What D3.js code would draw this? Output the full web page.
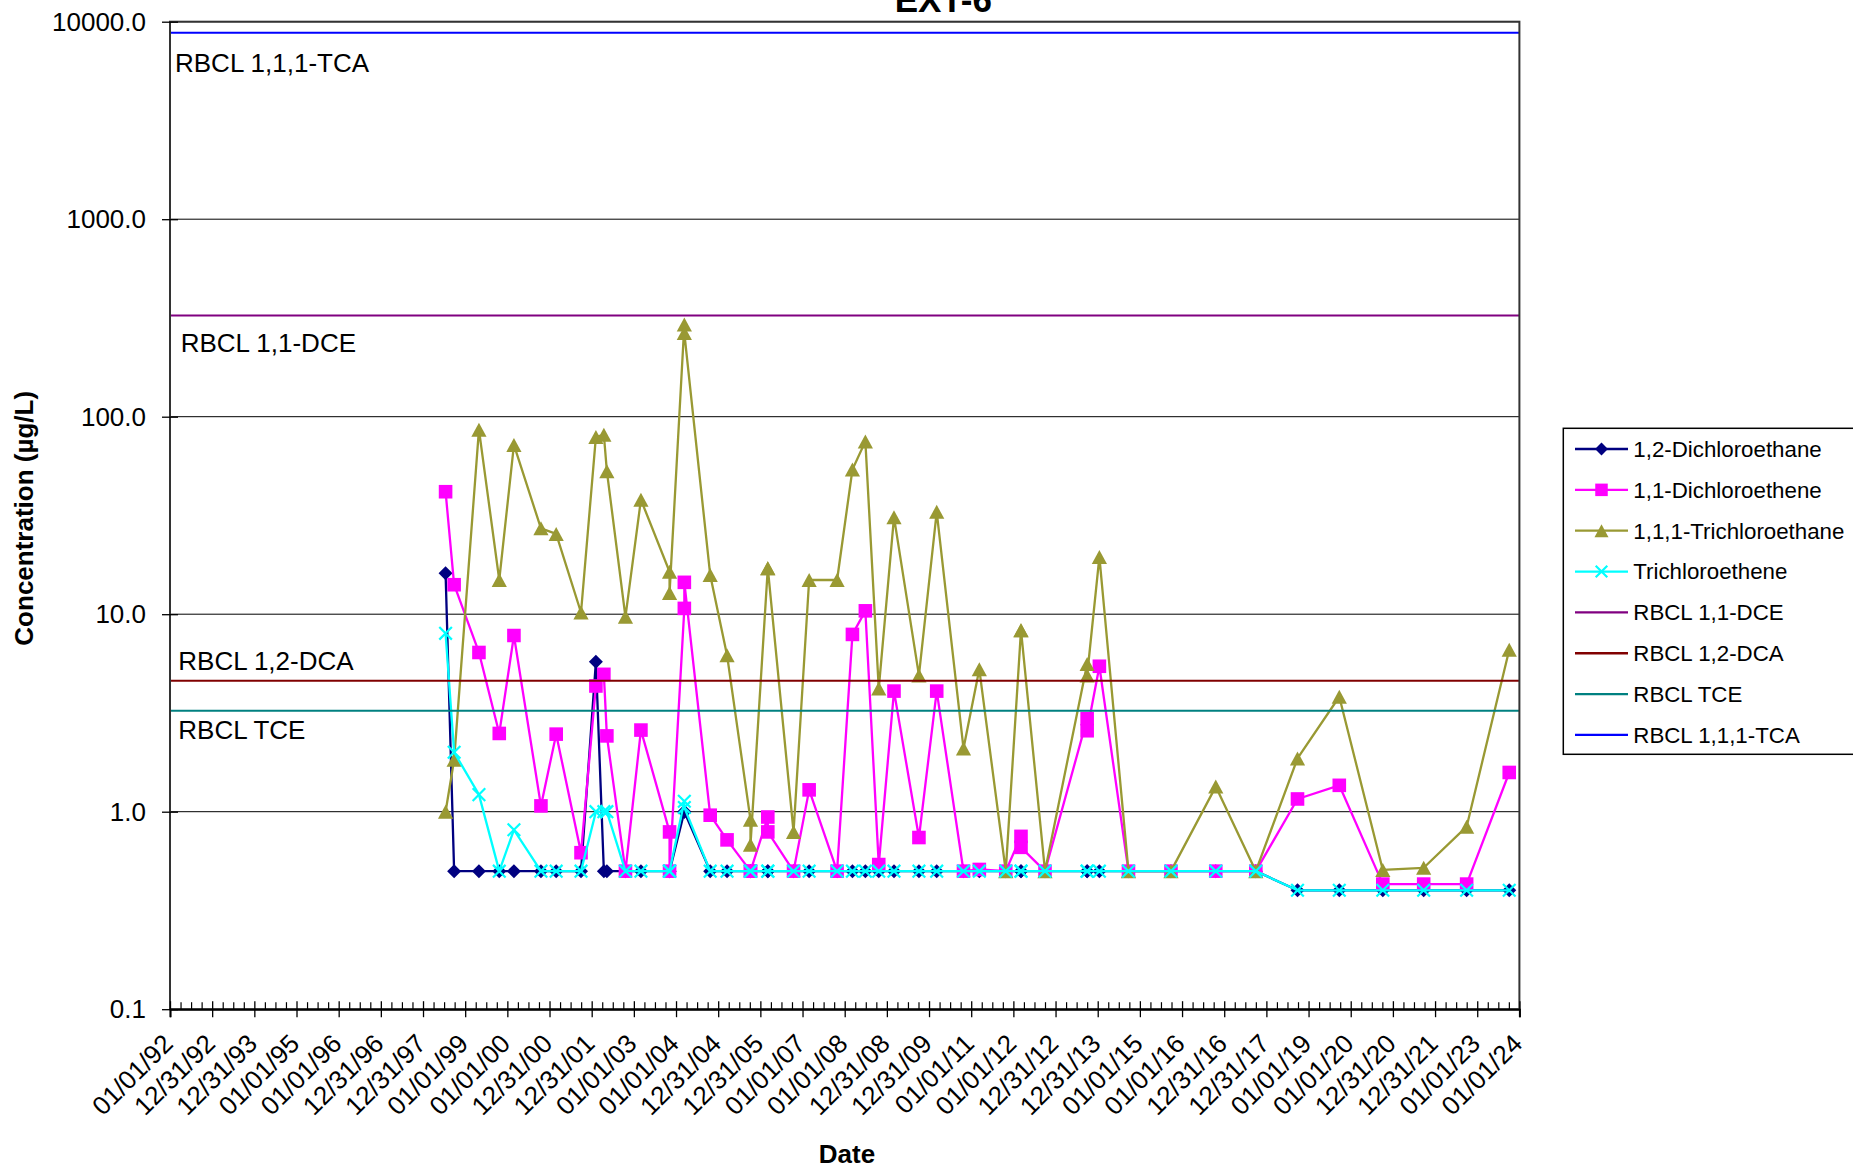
<!DOCTYPE html>
<html><head><meta charset="utf-8">
<script src="https://cdn.jsdelivr.net/npm/d3@7"></script>
<style>
body{margin:0;background:#fff}
svg{display:block}
text{font-family:"Liberation Sans",Arial,Helvetica,sans-serif;fill:#000}
</style>
</head><body>
<svg id="chart" width="1853" height="1168"></svg>
<script>
// ---------------- data ----------------
const sampleDates = ["1998-07-15","1998-09-27","1999-04-30","1999-10-23","2000-02-27","2000-10-18","2001-02-27","2001-09-30",
"2002-02-06","2002-04-16","2002-05-12","2002-10-20","2003-03-03","2003-11-06","2003-11-06","2004-03-13","2004-03-13",
"2004-10-23","2005-03-18","2005-10-07","2005-10-07","2006-03-06","2006-03-06","2006-10-15","2007-02-27","2007-10-27",
"2008-03-08","2008-06-28","2008-10-22","2009-03-03","2009-10-05","2010-03-08","2010-10-26","2011-03-12","2011-10-27",
"2012-03-07","2012-03-07","2012-10-01","2013-10-01","2013-10-01","2014-01-15","2014-09-24","2015-09-27","2016-10-19",
"2017-10-01","2018-09-27","2019-09-24","2020-10-05","2021-09-24","2022-10-01","2023-10-05"];
const dca = [16.1,0.5,0.5,0.5,0.5,0.5,0.5,0.5,5.75,0.5,0.5,0.5,0.5,0.5,0.5,1.0,1.0,0.5,0.5,0.5,0.5,0.5,0.5,0.5,0.5,0.5,
0.5,0.5,0.5,0.5,0.5,0.5,0.5,0.5,0.5,0.5,0.5,0.5,0.5,0.5,0.5,0.5,0.5,0.5,0.5,0.4,0.4,0.4,0.4,0.4,0.4];
const dce = [41.7,14.1,6.4,2.49,7.8,1.07,2.47,0.62,4.33,4.96,2.42,0.5,2.59,0.79,0.5,10.7,14.5,0.96,0.72,0.5,0.5,0.94,0.79,
0.5,1.29,0.5,7.9,10.4,0.54,4.08,0.74,4.08,0.5,0.51,0.5,0.75,0.66,0.5,2.96,2.57,5.45,0.5,0.5,0.5,0.5,1.16,1.36,0.43,0.43,0.43,1.58];
const tca = [1.0,1.83,86,14.9,72,27.2,25.5,10.2,79,81,53,9.7,38,16.4,12.8,293,265,15.8,6.2,0.91,0.68,17.1,17.1,0.79,14.9,14.9,
54,75,4.2,31,4.9,33,2.09,5.26,0.5,8.3,8.3,0.5,5.6,4.9,19.5,0.5,0.5,1.34,0.5,1.86,3.82,0.507,0.52,0.84,6.6];
const tce = [8.0,2.0,1.22,0.5,0.81,0.5,0.5,0.5,1.0,1.0,1.0,0.5,0.5,0.5,0.5,1.13,1.05,0.5,0.5,0.5,0.5,0.5,0.5,0.5,0.5,0.5,
0.5,0.5,0.5,0.5,0.5,0.5,0.5,0.5,0.5,0.5,0.5,0.5,0.5,0.5,0.5,0.5,0.5,0.5,0.5,0.4,0.4,0.4,0.4,0.4,0.4];
const seriesNames = ["1,2-Dichloroethane","1,1-Dichloroethene","1,1,1-Trichloroethane","Trichloroethene"];
const rbclNames = ["RBCL 1,1-DCE","RBCL 1,2-DCA","RBCL TCE","RBCL 1,1,1-TCA"];
const rbclValues = [325, 4.6, 3.24, 8800];
const yTickValues = [0.1, 1, 10, 100, 1000, 10000];
const yTickLabels = ["0.1","1.0","10.0","100.0","1000.0","10000.0"];
const xTickLabels = ["01/01/92","12/31/92","12/31/93","01/01/95","01/01/96","12/31/96","12/31/97","01/01/99","01/01/00",
"12/31/00","12/31/01","01/01/03","01/01/04","12/31/04","12/31/05","01/01/07","01/01/08","12/31/08","12/31/09","01/01/11",
"01/01/12","12/31/12","12/31/13","01/01/15","01/01/16","12/31/16","12/31/17","01/01/19","01/01/20","12/31/20","12/31/21",
"01/01/23","01/01/24"];
const chartTitle = "EXT-6";

// ---------------- layout ----------------
const L = 170, R = 1519.4, T = 21.7, B = 1009.2;
const DAY = 864e5;
const t0 = Date.UTC(1992,0,1), t1 = Date.UTC(2024,0,1);
const svg = d3.select("#chart");
const parse = d3.utcParse("%Y-%m-%d");

const x = d3.scaleUtc().domain([new Date(t0), new Date(t1)]).range([L, R]);
const y = d3.scaleLog().domain([0.1, 10000]).range([B, T]);

svg.append("rect").attr("width",1853).attr("height",1168).attr("fill","#fff");

// gridlines
svg.append("g").selectAll("line").data(yTickValues).join("line")
  .attr("x1", L).attr("x2", R).attr("y1", d => y(d)).attr("y2", d => y(d))
  .attr("stroke", "#000").attr("stroke-width", 1);

// data series
const colors = ["#000080", "#FF00FF", "#999933", "#00FFFF"];
const seriesValues = [dca, dce, tca, tce];
const markerKinds = ["diamond", "square", "triangle", "x"];
const dates = sampleDates.map(parse);

function markerPath(kind, cx, cy, s) {
  const p = d3.path();
  if (kind === "diamond") {
    const h = 7 * s;
    p.moveTo(cx, cy - h); p.lineTo(cx + h, cy); p.lineTo(cx, cy + h); p.lineTo(cx - h, cy); p.closePath();
  } else if (kind === "square") {
    const h = 6.8 * s;
    p.rect(cx - h, cy - h, 2 * h, 2 * h);
  } else if (kind === "triangle") {
    const w = 7.6 * s, h = 7 * s;
    p.moveTo(cx, cy - h); p.lineTo(cx + w, cy + h); p.lineTo(cx - w, cy + h); p.closePath();
  } else {
    const h = 6.3 * s;
    p.moveTo(cx - h, cy - h); p.lineTo(cx + h, cy + h); p.moveTo(cx - h, cy + h); p.lineTo(cx + h, cy - h);
  }
  return p.toString();
}
function drawMarker(g, kind, cx, cy, color, s) {
  const path = g.append("path").attr("d", markerPath(kind, cx, cy, s));
  if (kind === "x") path.attr("fill", "none").attr("stroke", color).attr("stroke-width", 2.2);
  else path.attr("fill", color).attr("stroke", "none");
}

const line = d3.line().x(d => x(d.date)).y(d => y(d.v));
seriesValues.forEach((vals, si) => {
  const pts = vals.map((v, i) => ({date: dates[i], v}));
  const g = svg.append("g");
  g.append("path").datum(pts).attr("d", line).attr("fill", "none")
    .attr("stroke", colors[si]).attr("stroke-width", 2.3).attr("stroke-linejoin", "round");
  pts.forEach(p => drawMarker(g, markerKinds[si], x(p.date), y(p.v), colors[si], 1));
});

// RBCL lines
const rbclColors = ["#800080", "#800000", "#008080", "#0000FF"];
svg.append("g").selectAll("line").data(rbclValues).join("line")
  .attr("x1", L).attr("x2", R).attr("y1", d => y(d)).attr("y2", d => y(d))
  .attr("stroke", (d, i) => rbclColors[i]).attr("stroke-width", 2);

// RBCL labels
const rbclLabelPos = [{dx: 10.7, dy: 36}, {dx: 8.3, dy: -11}, {dx: 8.3, dy: 28.4}, {dx: 5, dy: 39.5}];
svg.append("g").selectAll("text").data(rbclValues).join("text")
  .attr("x", (d, i) => L + rbclLabelPos[i].dx)
  .attr("y", (d, i) => y(d) + rbclLabelPos[i].dy)
  .attr("font-size", 26)
  .text((d, i) => rbclNames[i]);

// plot frame
svg.append("rect").attr("x", L).attr("y", T).attr("width", R - L).attr("height", B - T)
  .attr("fill", "none").attr("stroke", "#333").attr("stroke-width", 2);

// y axis
const yAxis = d3.axisLeft(y).tickValues(yTickValues).tickFormat((d, i) => yTickLabels[i]).tickSize(8).tickPadding(16);
const gy = svg.append("g").attr("transform", `translate(${L},0)`).call(yAxis);
gy.select(".domain").remove();
gy.selectAll(".tick line").attr("x1", 8).attr("x2", -8).attr("stroke", "#000").attr("stroke-width", 1.3);
gy.selectAll(".tick text").attr("font-size", 26).attr("font-family", "Liberation Sans, Arial, sans-serif").attr("fill", "#000");

// x axis
const majorDates = d3.range(xTickLabels.length).map(i => new Date(t0 + i * 365.25 * DAY));
const minorDates = d3.range((xTickLabels.length - 1) * 4 + 1).filter(i => i % 4 !== 0).map(i => new Date(t0 + i * 365.25 / 4 * DAY));
const gxMinor = svg.append("g").attr("transform", `translate(0,${B})`)
  .call(d3.axisBottom(x).tickValues(minorDates).tickFormat("").tickSize(-7));
gxMinor.select(".domain").remove();
gxMinor.selectAll(".tick line").attr("stroke", "#000").attr("stroke-width", 1.2);

const gx = svg.append("g").attr("transform", `translate(0,${B})`)
  .call(d3.axisBottom(x).tickValues(majorDates).tickFormat((d, i) => xTickLabels[i]).tickSize(8).tickPadding(0));
gx.select(".domain").attr("stroke", "#000").attr("stroke-width", 2);
gx.selectAll(".tick line").attr("y1", -8).attr("y2", 8).attr("stroke", "#000").attr("stroke-width", 1.3);
gx.selectAll(".tick text")
  .attr("x", 0).attr("y", 0).attr("dy", 0)
  .attr("text-anchor", "end")
  .attr("transform", "translate(4,36) rotate(-45)")
  .attr("font-size", 26).attr("font-family", "Liberation Sans, Arial, sans-serif").attr("fill", "#000");

// titles
svg.append("text").attr("x", 943.3).attr("y", 12).attr("text-anchor", "middle")
  .attr("font-size", 35).attr("font-weight", "bold").text(chartTitle);
svg.append("text").attr("transform", "translate(33,518.3) rotate(-90)").attr("text-anchor", "middle")
  .attr("font-size", 26).attr("font-weight", "bold").text("Concentration (µg/L)");
svg.append("text").attr("x", 847).attr("y", 1163).attr("text-anchor", "middle")
  .attr("font-size", 26).attr("font-weight", "bold").text("Date");

// legend
const legendNames = seriesNames.concat(rbclNames);
const legendColors = colors.concat(rbclColors);
const legendKinds = markerKinds.concat([null, null, null, null]);
const lg = svg.append("g");
lg.append("rect").attr("x", 1563.3).attr("y", 428.3).attr("width", 400).attr("height", 326)
  .attr("fill", "#fff").attr("stroke", "#000").attr("stroke-width", 1.5);
legendNames.forEach((name, i) => {
  const cy = 449 + i * 40.85;
  lg.append("line").attr("x1", 1575).attr("x2", 1628).attr("y1", cy).attr("y2", cy)
    .attr("stroke", legendColors[i]).attr("stroke-width", 2.3);
  if (legendKinds[i]) drawMarker(lg, legendKinds[i], 1601.5, cy, legendColors[i], 0.92);
  lg.append("text").attr("x", 1633.3).attr("y", cy).attr("dy", "0.35em")
    .attr("font-size", 22.3).text(name);
});
</script>
</body></html>
